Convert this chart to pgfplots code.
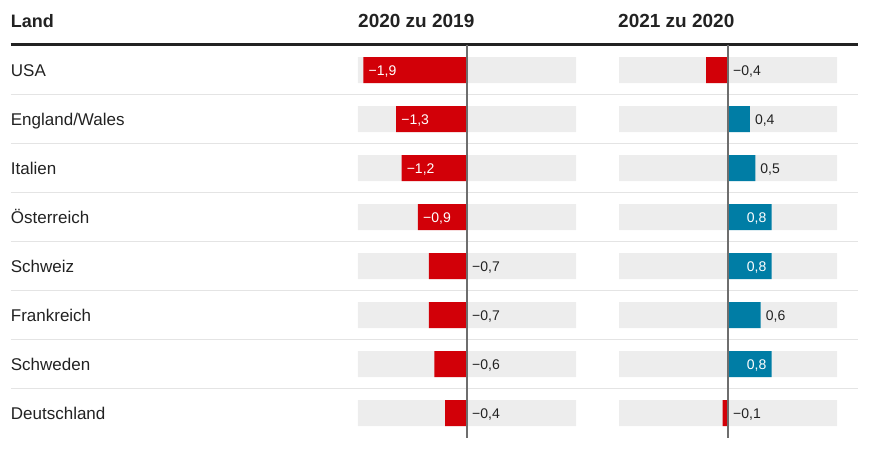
\documentclass[border=0pt]{standalone}
\usepackage{fontspec}
\setmainfont{Liberation Sans}
\usepackage{pgfplots}
\pgfplotsset{compat=1.18}

\definecolor{barred}{RGB}{210,0,8}
\definecolor{barblue}{RGB}{0,125,165}
\definecolor{bggray}{RGB}{237,237,237}
\definecolor{zerogray}{RGB}{110,110,110}
\definecolor{sepgray}{RGB}{228,228,228}
\definecolor{inkgray}{RGB}{34,34,34}

\newcommand{\valfont}{\fontsize{14}{14}\selectfont}

\pgfplotsset{
  panel/.style={
    scale only axis, width=218pt, height=392pt,
    xmin=-2, xmax=2, ymin=-0.5, ymax=7.5, y dir=reverse,
    axis line style={draw=none}, tick style={draw=none},
    xtick=\empty, ytick=\empty, clip=false,
  },
  bar/.style={xbar, bar width=26pt, bar shift=0pt, draw=none, fill=#1},
  lab/.style={draw=none, mark=none, nodes near coords,
    point meta=explicit symbolic,
    every node near coord/.append style={inner sep=0pt, font=\valfont,
      text=#1}},
  labW/.style={lab=inkgray, every node near coord/.append style={anchor=base west, xshift=5pt, yshift=-5pt}},
  labWin/.style={lab=white, every node near coord/.append style={anchor=base west, xshift=5pt, yshift=-5pt}},
  labEin/.style={lab=white, every node near coord/.append style={anchor=base east, xshift=-5pt, yshift=-5pt}},
}

\begin{document}
\begin{tikzpicture}
\useasboundingbox (0,0) rectangle (873pt,-450pt);

% headers and rules
\node[anchor=base west, inner sep=0pt, text=inkgray, font=\fontsize{18}{18}\selectfont\bfseries] at (10.7pt,-27.5pt) {Land};
\node[anchor=base west, inner sep=0pt, text=inkgray, font=\fontsize{19}{19}\selectfont\bfseries] at (358pt,-27.5pt) {2020 zu 2019};
\node[anchor=base west, inner sep=0pt, text=inkgray, font=\fontsize{19}{19}\selectfont\bfseries] at (618pt,-27.5pt) {2021 zu 2020};
\draw[inkgray, line width=2.5pt] (10.5pt,-44.5pt) -- (858pt,-44.5pt);
\foreach \k in {0,...,6}
  \draw[sepgray, line width=1pt] (10.5pt,{-94.5pt-49pt*\k}) -- (858pt,{-94.5pt-49pt*\k});

% panel 1: 2020 zu 2019
\begin{axis}[panel, at={(358pt,-45.5pt)}, anchor=north west,
  ytick={0,...,7},
  yticklabels={USA, England/Wales, Italien, Österreich, Schweiz, Frankreich, Schweden, Deutschland},
  yticklabel style={anchor=base west, inner sep=0pt, xshift=-347.3pt, yshift=-6pt,
    font=\fontsize{17}{17}\selectfont, text=inkgray},
]
\addplot[bar=bggray] coordinates {(-2,0) (-2,1) (-2,2) (-2,3) (-2,4) (-2,5) (-2,6) (-2,7)};
\addplot[bar=bggray] coordinates {(2,0) (2,1) (2,2) (2,3) (2,4) (2,5) (2,6) (2,7)};
\addplot[bar=barred] coordinates {(-1.9,0) (-1.3,1) (-1.2,2) (-0.9,3) (-0.7,4) (-0.7,5) (-0.6,6) (-0.4,7)};
\draw[zerogray, line width=1.3pt] (axis cs:0,-0.52) -- (axis cs:0,7.5);
\addplot[labWin] coordinates {(-1.9,0) [−1,9] (-1.3,1) [−1,3] (-1.2,2) [−1,2] (-0.9,3) [−0,9]};
\addplot[labW] coordinates {(0,4) [−0,7] (0,5) [−0,7] (0,6) [−0,6] (0,7) [−0,4]};
\end{axis}

% panel 2: 2021 zu 2020
\begin{axis}[panel, at={(619pt,-45.5pt)}, anchor=north west]
\addplot[bar=bggray] coordinates {(-2,0) (-2,1) (-2,2) (-2,3) (-2,4) (-2,5) (-2,6) (-2,7)};
\addplot[bar=bggray] coordinates {(2,0) (2,1) (2,2) (2,3) (2,4) (2,5) (2,6) (2,7)};
\addplot[bar=barred] coordinates {(-0.4,0) (-0.1,7)};
\addplot[bar=barblue] coordinates {(0.4,1) (0.5,2) (0.8,3) (0.8,4) (0.6,5) (0.8,6)};
\draw[zerogray, line width=1.3pt] (axis cs:0,-0.52) -- (axis cs:0,7.5);
\addplot[labW] coordinates {(0,0) [−0,4] (0.4,1) [0,4] (0.5,2) [0,5] (0.6,5) [0,6] (0,7) [−0,1]};
\addplot[labEin] coordinates {(0.8,3) [0,8] (0.8,4) [0,8] (0.8,6) [0,8]};
\end{axis}
\end{tikzpicture}
\end{document}
